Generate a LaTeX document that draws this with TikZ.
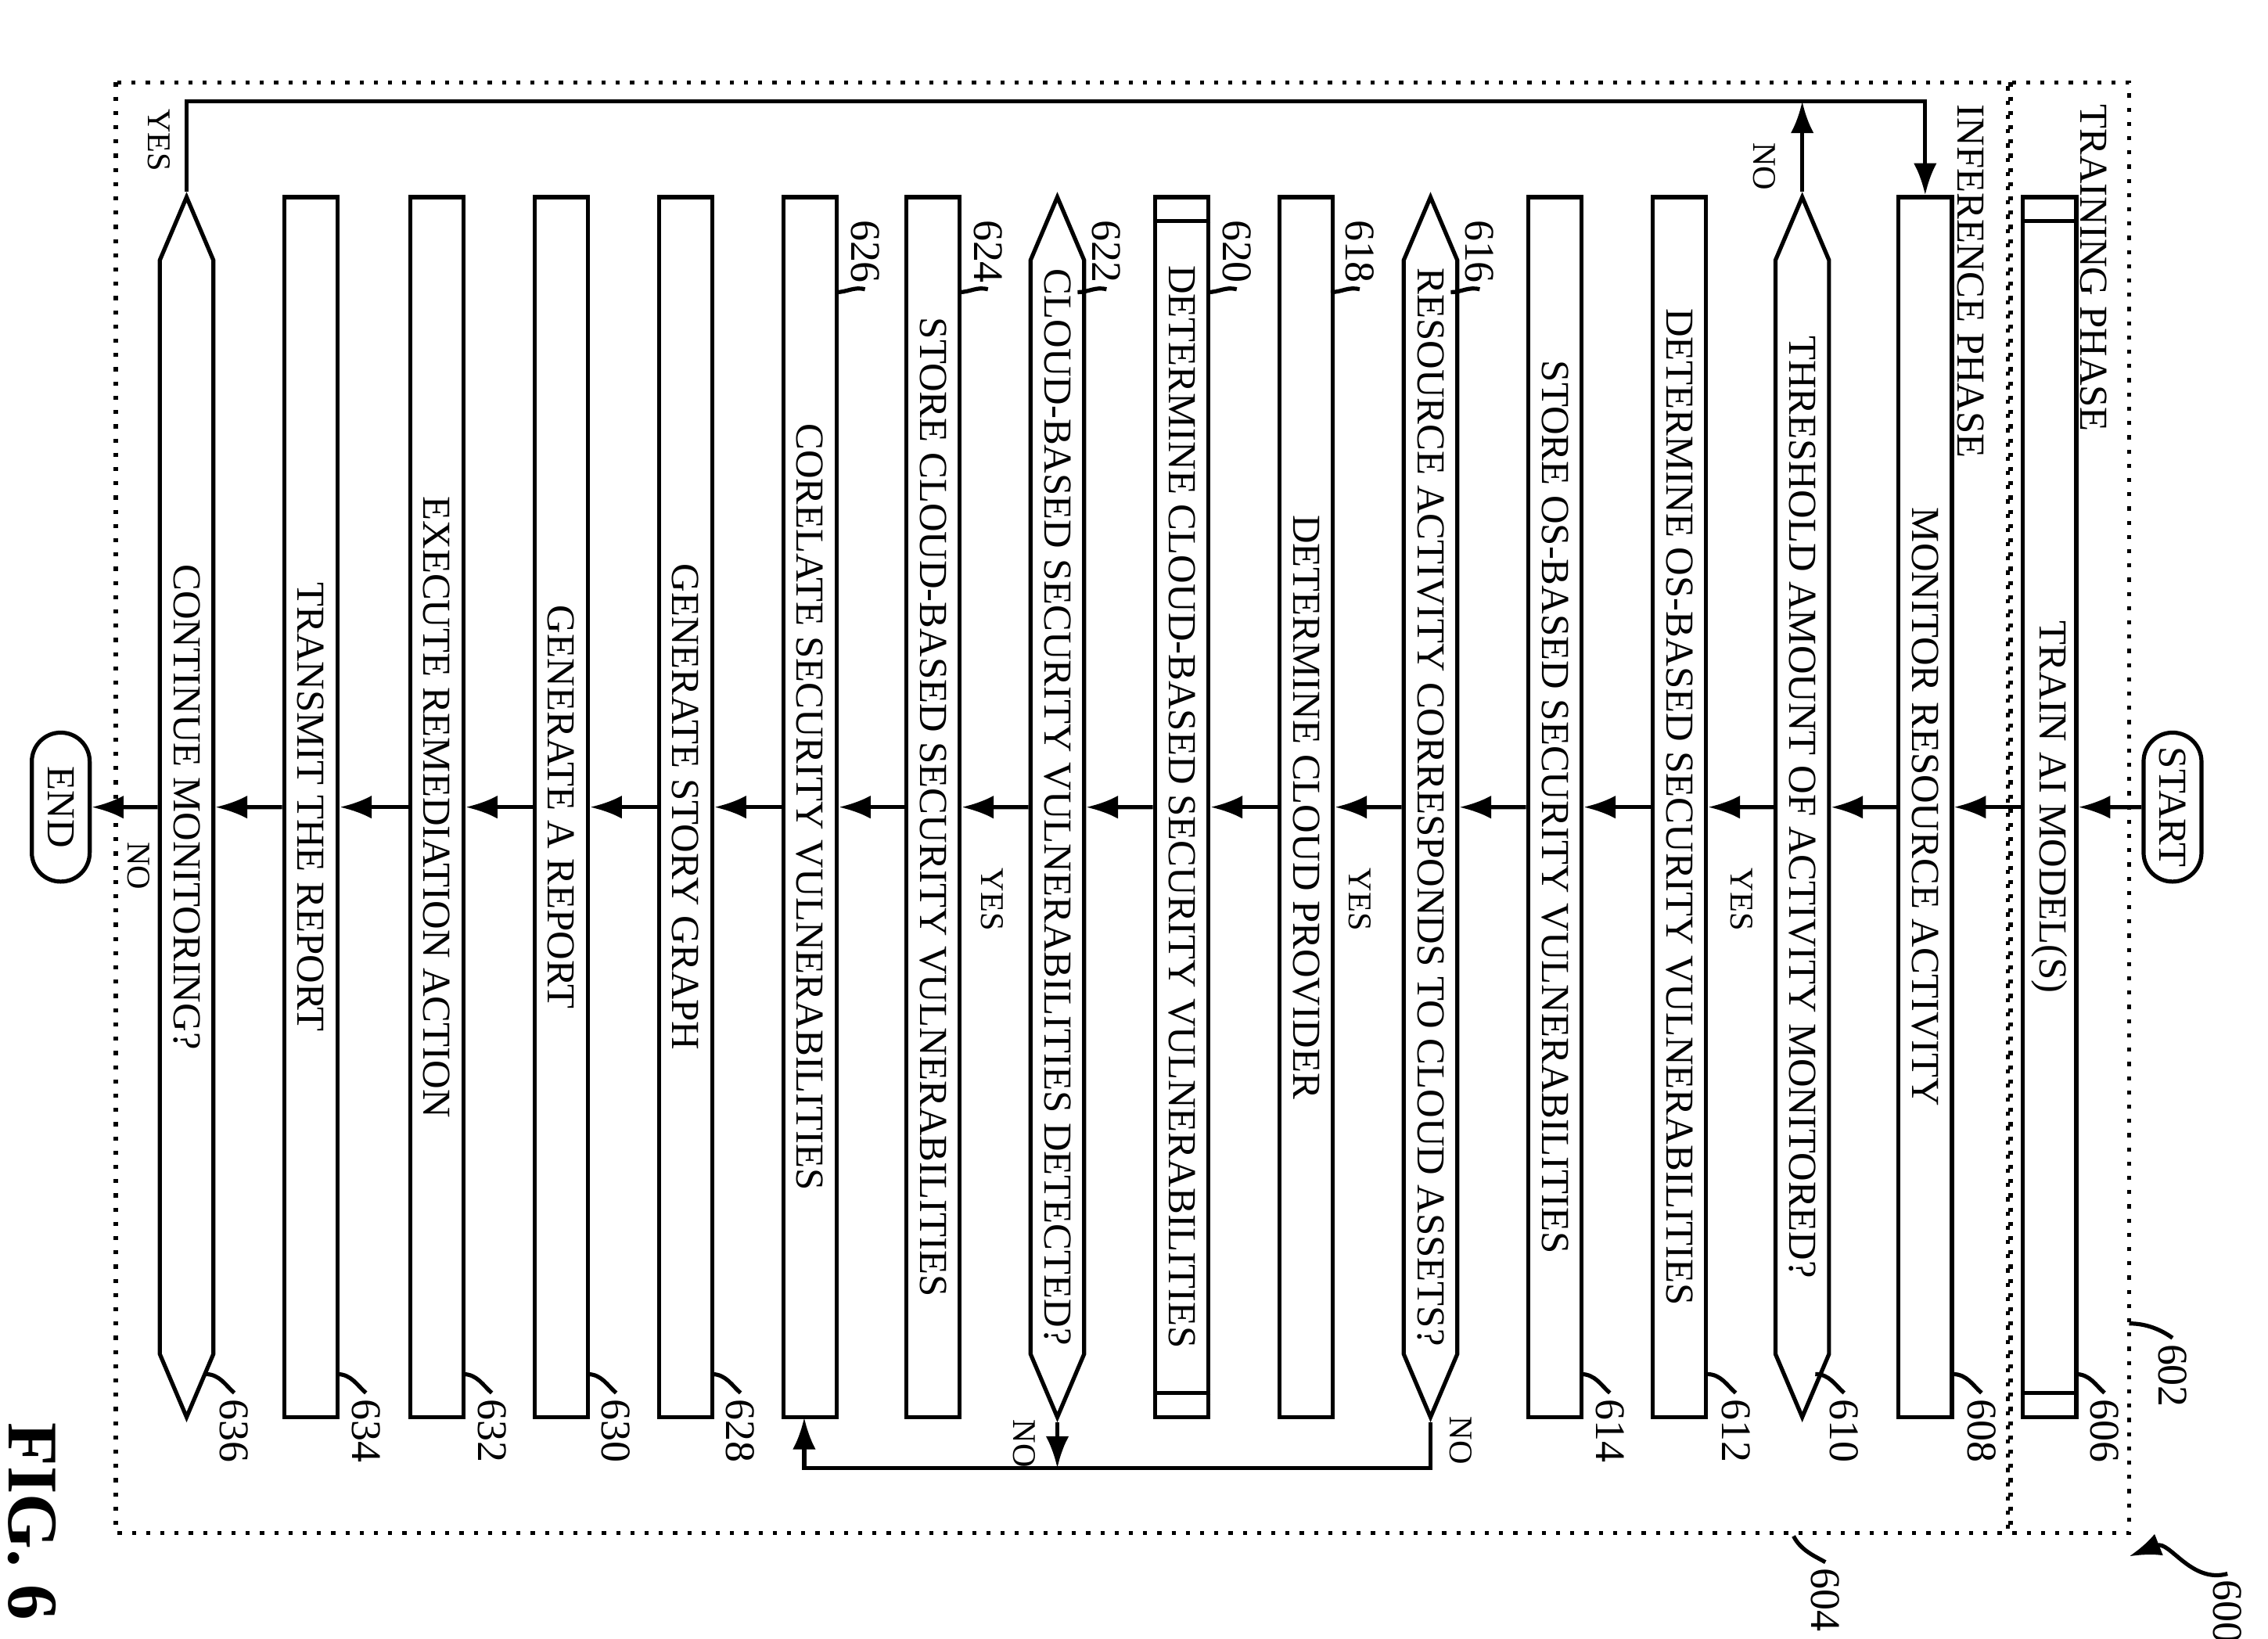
\documentclass[tikz,border=0pt]{standalone}
\usepackage{fontspec}
\setmainfont{Liberation Serif}
\usetikzlibrary{shapes.symbols,shapes.misc,calc,arrows.meta}
\tikzset{
  stepbox/.style={draw,thick,rectangle,rotate=-90,minimum width=8.43cm,minimum height=0.37cm,inner sep=0pt,font=\fontsize{7.8}{8}\selectfont},
  decide/.style={draw,thick,signal,signal to=east and west,signal pointer angle=46,rotate=-90,minimum width=8.43cm,minimum height=0.37cm,inner sep=0pt,font=\fontsize{7.8}{8}\selectfont},
  term/.style={draw,thick,rounded rectangle,rotate=-90,minimum width=1.1cm,minimum height=0.4cm,inner sep=1pt,font=\fontsize{7.8}{8}\selectfont},
  phase/.style={draw,thick,dotted},
  num/.style={rotate=-90,font=\fontsize{8.3}{9}\selectfont,inner sep=1pt},
  small/.style={rotate=-90,font=\fontsize{6.5}{7}\selectfont,inner sep=1pt},
  flow/.style={thick,-{Latex[length=2.2mm,width=1.6mm]}}
}
\newcommand{\boxnum}[3]{% box, x of right edge, number
  \node[num,anchor=west] (n#3) at (#2+20,963) {#3};
  \draw[thick] (#2,950) .. controls (#2+10,950) and (#2+14,958) .. (n#3.west);
}
\newcommand{\topnum}[2]{% x of right edge, number
  \node[num,anchor=east] (n#2) at (#1+20,200) {#2};
  \draw[thick] (#1,202) .. controls (#1+8,202) and (#1+12,198) .. (n#2.east);
}
\begin{document}
\begin{tikzpicture}[x=0.01cm,y=-0.01cm]
\useasboundingbox (0,0) rectangle (1568,1133);
% phases
\draw[phase] (1390,57) rectangle (1472,1060);
\draw[phase] (80,57) rectangle (1388,1060);
\node[num,anchor=north west,font=\fontsize{7.8}{8}\selectfont] (train) at (1461,68) {TRAINING PHASE};
\node[num,anchor=north west,font=\fontsize{7.8}{8}\selectfont] (infer) at (1376,68) {INFERENCE PHASE};

\node[term] (start) at (1502,558) {START};
\node[stepbox] (b606) at (1417,558) {TRAIN AI MODEL(S)};
\draw[thick] ($(b606.north west)+(0,18)$) -- ($(b606.south west)+(0,18)$);
\draw[thick] ($(b606.north east)+(0,-18)$) -- ($(b606.south east)+(0,-18)$);
\node[stepbox] (b608) at (1331,558) {MONITOR RESOURCE ACTIVITY};
\node[decide] (b610) at (1246,558) {THRESHOLD AMOUNT OF ACTIVITY MONITORED?};
\node[stepbox] (b612) at (1161,558) {DETERMINE OS-BASED SECURITY VULNERABILITIES};
\node[stepbox] (b614) at (1075,558) {STORE OS-BASED SECURITY VULNERABILITIES};
\node[decide] (b616) at (989,558) {RESOURCE ACTIVITY CORRESPONDS TO CLOUD ASSETS?};
\node[stepbox] (b618) at (903,558) {DETERMINE CLOUD PROVIDER};
\node[stepbox] (b620) at (817,558) {DETERMINE CLOUD-BASED SECURITY VULNERABILITIES};
\draw[thick] ($(b620.north west)+(0,18)$) -- ($(b620.south west)+(0,18)$);
\draw[thick] ($(b620.north east)+(0,-18)$) -- ($(b620.south east)+(0,-18)$);
\node[decide] (b622) at (731,558) {CLOUD-BASED SECURITY VULNERABILITIES DETECTED?};
\node[stepbox] (b624) at (645,558) {STORE CLOUD-BASED SECURITY VULNERABILITIES};
\node[stepbox] (b626) at (560,558) {CORELATE SECURITY VULNERABILITIES};
\node[stepbox] (b628) at (474,558) {GENERATE STORY GRAPH};
\node[stepbox] (b630) at (388,558) {GENERATE A REPORT};
\node[stepbox] (b632) at (302,558) {EXECUTE REMEDIATION ACTION};
\node[stepbox] (b634) at (215,558) {TRANSMIT THE REPORT};
\node[decide] (b636) at (129,558) {CONTINUE MONITORING?};
\node[term] (end) at (42,558) {END};

% main flow
\draw[flow] (start) -- (b606);
\draw[flow] (b606) -- (b608);
\draw[flow] (b608) -- (b610);
\draw[flow] (b610) -- (b612);
\draw[flow] (b612) -- (b614);
\draw[flow] (b614) -- (b616);
\draw[flow] (b616) -- (b618);
\draw[flow] (b618) -- (b620);
\draw[flow] (b620) -- (b622);
\draw[flow] (b622) -- (b624);
\draw[flow] (b624) -- (b626);
\draw[flow] (b626) -- (b628);
\draw[flow] (b628) -- (b630);
\draw[flow] (b630) -- (b632);
\draw[flow] (b632) -- (b634);
\draw[flow] (b634) -- (b636);
\draw[flow] (b636) -- (end);
\node[small,anchor=west] (yes610) at (1204,596) {YES};
\node[small,anchor=west] (yes616) at (940,596) {YES};
\node[small,anchor=west] (yes622) at (686,596) {YES};
\node[small,anchor=west] (no636) at (96,578) {NO};

% loops
\coordinate (top) at (1246,70);
\draw[flow] (b610.west) -- (top);
\node[small] (no610) at (1220,115) {NO};
\draw[flow] (b636.west) -- (129,70) -- (1331,70) -- (b608.west);
\node[small] (yes636) at (110,97) {YES};
\coordinate (low) at (731,1015);
\draw[flow] (b616.east) -- (989,1015) -- (556,1015) -- (556,980);
\draw[flow] (b622.east) -- (low);
\node[small] (no616) at (1010,996) {NO};
\node[small] (no622) at (708,998) {NO};

% reference numbers
\boxnum{b606}{1435}{606}
\boxnum{b608}{1350}{608}
\boxnum{b610}{1255}{610}
\boxnum{b612}{1180}{612}
\boxnum{b614}{1093}{614}
\topnum{1003}{616}
\topnum{920}{618}
\topnum{835}{620}
\topnum{745}{622}
\topnum{663}{624}
\topnum{578}{626}
\boxnum{b628}{492}{628}
\boxnum{b630}{406}{630}
\boxnum{b632}{320}{632}
\boxnum{b634}{233}{634}
\boxnum{b636}{142}{636}
\node[num,anchor=west] (n602) at (1502,925) {602};
\draw[thick] (1472,915) .. controls (1485,915) and (1495,920) .. (n602.west);
\node[num,anchor=west] (n604) at (1262,1080) {604};
\draw[thick] (1240,1062) .. controls (1245,1072) and (1255,1076) .. (n604.west);
\node[num,anchor=west] (n600) at (1540,1088) {600};
\draw[thick,-{Latex[length=2.2mm,width=1.6mm]}] (n600.west) .. controls (1515,1095) and (1500,1065) .. (1472,1076);
\node[rotate=-90,font=\bfseries\fontsize{14}{14}\selectfont] (fig) at (22,1052) {FIG. 6};
\end{tikzpicture}
\end{document}
